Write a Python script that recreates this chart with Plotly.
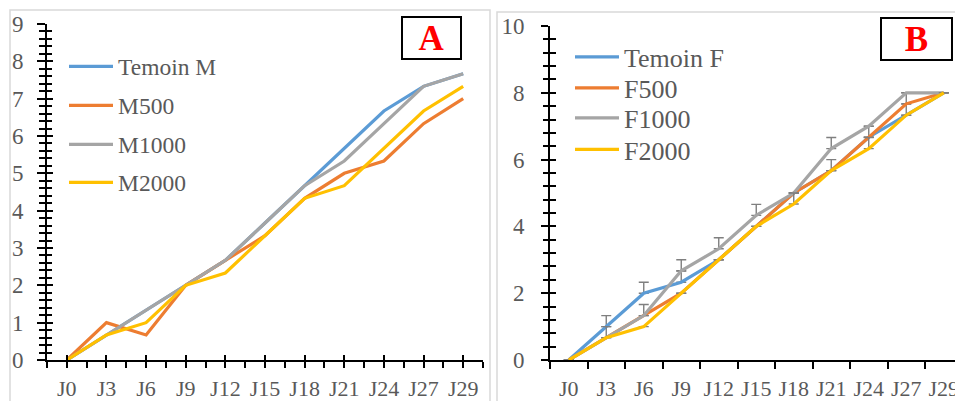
import plotly.graph_objects as go

W, H = 955, 401

days = ["J0", "J3", "J6", "J9", "J12", "J15", "J18", "J21", "J24", "J27", "J29"]

# Panel A (males)
temoin_m = [0, 0.67, 1.33, 2.0, 2.67, 3.67, 4.67, 5.67, 6.67, 7.33, 7.67]
m500 = [0, 1.0, 0.67, 2.0, 2.67, 3.33, 4.33, 5.0, 5.33, 6.33, 7.0]
m1000 = [0, 0.67, 1.33, 2.0, 2.67, 3.67, 4.67, 5.33, 6.33, 7.33, 7.67]
m2000 = [0, 0.67, 1.0, 2.0, 2.33, 3.33, 4.33, 4.67, 5.67, 6.67, 7.33]

# Panel B (females)
temoin_f = [0, 1.0, 2.0, 2.33, 3.0, 4.0, 5.0, 5.67, 6.67, 7.33, 8.0]
f500 = [0, 0.67, 1.33, 2.0, 3.0, 4.0, 5.0, 5.67, 6.67, 7.67, 8.0]
f1000 = [0, 0.67, 1.33, 2.67, 3.33, 4.33, 5.0, 6.33, 7.0, 8.0, 8.0]
f2000 = [0, 0.67, 1.0, 2.0, 3.0, 4.0, 4.67, 5.67, 6.33, 7.33, 8.0]

# upper error values (panel B)
err_temoin_f = [None, 0.33, 0.33, 0.33, 0, None, None, 0.33, None, 0.33, None]
err_f500 = [None, None, None, None, None, 0, None, None, 0.33, 0.33, None]
err_f1000 = [None, 0.33, 0.33, 0.33, 0.33, 0.33, 0, 0.33, 0, 0, 0]
err_f2000 = [None, None, None, 0, None, None, 0.33, None, 0.33, 0, None]

names_a = ["Temoin M", "M500", "M1000", "M2000"]
names_b = ["Temoin F", "F500", "F1000", "F2000"]
colors = ["#5B9BD5", "#ED7D31", "#A5A5A5", "#FFC000"]

FONT = "Times New Roman, Liberation Serif, serif"
TXT = "#595959"

xpos = list(range(len(days)))
half_steps = [v - 0.5 for v in range(len(days) + 1)]
minor_a = [round(i * 0.2, 2) for i in range(46)]
minor_b = [round(i * 0.4, 2) for i in range(26)]

fig = go.Figure()

series_a = [temoin_m, m500, m1000, m2000]
for i, (nm, ys, c) in enumerate(zip(names_a, series_a, colors)):
    fig.add_trace(go.Scatter(x=xpos, y=ys, name=nm, mode="lines",
                             line=dict(color=c, width=3.2),
                             xaxis="x", yaxis="y",
                             legend="legend" if i == 0 else f"legend{i+1}"))

series_b = [temoin_f, f500, f1000, f2000]
errs_b = [err_temoin_f, err_f500, err_f1000, err_f2000]
for i, (nm, ys, er, c) in enumerate(zip(names_b, series_b, errs_b, colors)):
    fig.add_trace(go.Scatter(x=xpos, y=ys, name=nm, mode="lines",
                             line=dict(color=c, width=3.2),
                             error_y=dict(type="data", array=er, symmetric=False,
                                          arrayminus=[0] * len(er),
                                          color="#7F7F7F", thickness=1.4, width=5),
                             xaxis="x2", yaxis="y2",
                             legend=f"legend{i+5}"))

# empty helper traces so the overlay tick axes are drawn
for xa, ya in [("x3", "y"), ("x", "y3"), ("x2", "y4")]:
    fig.add_trace(go.Scatter(x=[None], y=[None], xaxis=xa, yaxis=ya,
                             showlegend=False, hoverinfo="skip", mode="lines"))


def px_x(p):
    return p / W


def px_y(p):
    return 1 - p / H


ydom = [px_y(360), px_y(24)]
ydom_b = [px_y(360), px_y(26)]
xdom_a = [px_x(47), px_x(483)]
xdom_b = [px_x(550), 1.0]
xr_b = [-0.5, -0.5 + (W - 550) / 37.5]

xtickfont = dict(family=FONT, size=22, color=TXT)
ytickfont = dict(family=FONT, size=23, color=TXT)
TK = dict(tickwidth=2, tickcolor="black")
common = dict(showgrid=False, zeroline=False, fixedrange=True, automargin=False)

layout = dict(
    width=W, height=H, autosize=False,
    margin=dict(l=0, r=0, t=0, b=0, pad=0),
    paper_bgcolor="white", plot_bgcolor="rgba(0,0,0,0)",
    font=dict(family=FONT, color=TXT),
    # ---- Panel A axes
    xaxis=dict(domain=xdom_a, range=[-0.5, 10.5], anchor="y",
               tickmode="array", tickvals=xpos, ticktext=days,
               ticks="outside", ticklen=6, **TK,
               minor=dict(tickmode="array", tickvals=half_steps,
                          ticks="outside", ticklen=6, **TK),
               showline=True, linecolor="black", linewidth=2,
               tickfont=xtickfont, ticklabelstandoff=2,
               ticklabeloverflow="allow", **common),
    yaxis=dict(domain=ydom, range=[0, 9], anchor="x",
               tickmode="array", tickvals=list(range(10)),
               ticks="outside", ticklen=8, **TK,
               minor=dict(tickmode="array", tickvals=minor_a,
                          ticks="outside", ticklen=6, **TK),
               showline=True, linecolor="black", linewidth=2,
               tickfont=ytickfont, ticklabelstandoff=9,
               ticklabeloverflow="allow", **common),
    xaxis3=dict(overlaying="x", anchor="y", range=[-0.5, 10.5],
                tickmode="array", tickvals=xpos, showticklabels=False,
                ticks="inside", ticklen=5, **TK, showline=False, **common),
    yaxis3=dict(overlaying="y", anchor="x", side="left", range=[0, 9],
                tickmode="array", tickvals=list(range(10)), showticklabels=False,
                ticks="inside", ticklen=6, **TK,
                minor=dict(tickmode="array", tickvals=minor_a,
                           ticks="inside", ticklen=5, **TK),
                showline=False, **common),
    # ---- Panel B axes
    xaxis2=dict(domain=xdom_b, range=xr_b, anchor="y2",
                tickmode="array", tickvals=xpos, ticktext=days,
                ticks="",
                minor=dict(tickmode="array", tickvals=half_steps,
                           ticks="outside", ticklen=7, **TK),
                showline=True, linecolor="black", linewidth=2,
                tickfont=xtickfont, ticklabelstandoff=8,
                ticklabeloverflow="allow", **common),
    yaxis2=dict(domain=ydom_b, range=[0, 10], anchor="x2",
                tickmode="array", tickvals=list(range(0, 11, 2)),
                ticks="outside", ticklen=7, **TK,
                minor=dict(tickmode="array", tickvals=minor_b,
                           ticks="outside", ticklen=5, **TK),
                showline=True, linecolor="black", linewidth=2,
                tickfont=ytickfont, ticklabelstandoff=12,
                ticklabeloverflow="allow", **common),
    yaxis4=dict(overlaying="y2", anchor="x2", side="left", range=[0, 10],
                tickmode="array", tickvals=list(range(0, 11, 2)), showticklabels=False,
                ticks="inside", ticklen=6, **TK,
                minor=dict(tickmode="array", tickvals=minor_b,
                           ticks="inside", ticklen=6, **TK),
                showline=False, **common),
    showlegend=True,
)


def make_legend(xp, yp, size):
    return dict(x=px_x(xp), y=px_y(yp), xanchor="left", yanchor="middle",
                bgcolor="rgba(0,0,0,0)", borderwidth=0,
                font=dict(family=FONT, size=size, color=TXT),
                itemwidth=44, tracegroupgap=0)


rows_a = [66.5, 105.5, 144.5, 182.5]
rows_b = [57, 88, 118, 149.5]
for i, yp in enumerate(rows_a):
    key = "legend" if i == 0 else f"legend{i+1}"
    layout[key] = make_legend(64, yp, 23.5)
for i, yp in enumerate(rows_b):
    layout[f"legend{i+5}"] = make_legend(570, yp, 26)

layout["shapes"] = [
    dict(type="rect", xref="paper", yref="paper",
         x0=px_x(10), x1=px_x(490), y0=-0.2, y1=px_y(10),
         line=dict(color="#D9D9D9", width=1.5), layer="below"),
    dict(type="rect", xref="paper", yref="paper",
         x0=px_x(497), x1=1.2, y0=-0.2, y1=px_y(12),
         line=dict(color="#D9D9D9", width=1.5), layer="below"),
]

layout["annotations"] = [
    dict(text="<b>A</b>", xref="paper", yref="paper",
         x=px_x(431.5), y=px_y(38), xanchor="center", yanchor="middle",
         showarrow=False, font=dict(family=FONT, size=35, color="#FF0000"),
         width=57, height=40, bgcolor="white", bordercolor="black",
         borderwidth=2, borderpad=0),
    dict(text="<b>B</b>", xref="paper", yref="paper",
         x=px_x(916.5), y=px_y(39), xanchor="center", yanchor="middle",
         showarrow=False, font=dict(family=FONT, size=35, color="#FF0000"),
         width=69, height=40, bgcolor="white", bordercolor="black",
         borderwidth=2, borderpad=0),
]

fig.update_layout(**layout)
fig.write_html("out.html", config={"displayModeBar": False},
               post_script="document.body.style.margin='0px';")
